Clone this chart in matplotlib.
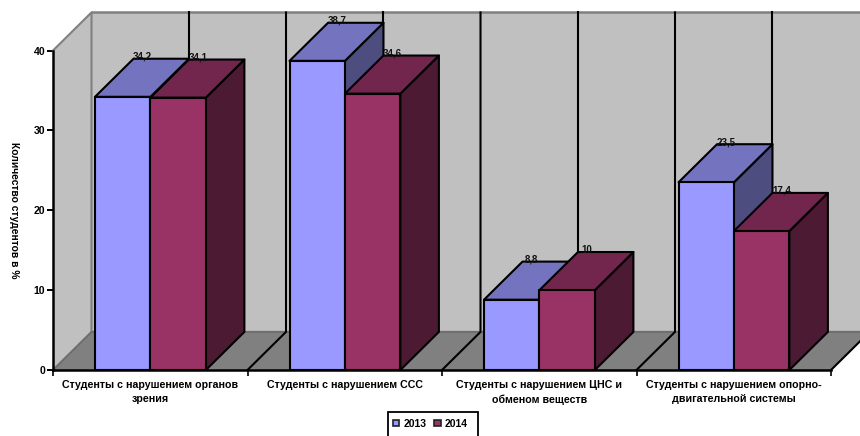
import matplotlib
matplotlib.use("Agg")
import matplotlib.pyplot as plt
from matplotlib.patches import Patch, Polygon, Rectangle

plt.rcParams["font.family"] = ["Liberation Sans", "DejaVu Sans"]
plt.rcParams["font.weight"] = "bold"

categories = [
    "Студенты с нарушением органов\nзрения",
    "Студенты с нарушением ССС",
    "Студенты с нарушением ЦНС и\nобменом веществ",
    "Студенты с нарушением опорно-\nдвигательной системы",
]
values_2013 = [34.2, 38.7, 8.8, 23.5]
values_2014 = [34.1, 34.6, 10, 17.4]
labels_2013 = ["34,2", "38,7", "8,8", "23,5"]
labels_2014 = ["34,1", "34,6", "10", "17,4"]
yticks = [0, 10, 20, 30, 40]

# depth of the fake 3d box, in data units
DX = 0.198
DY = 4.77
GAP = 0.216  # space left of the first bar in a category
BAR = 0.285
LW = 1.5

FRONT = ["#9999FF", "#993366"]
TOP = ["#7373BF", "#73264D"]
SIDE = ["#4D4D80", "#4D1A33"]


def poly(ax, pts, color, z, edge="none", lw=0.0):
    ax.add_patch(Polygon(pts, closed=True, facecolor=color, edgecolor=edge,
                         linewidth=lw, zorder=z, clip_on=False, joinstyle="round"))


def draw_bar(ax, x, val, s, z):
    x2 = x + BAR
    poly(ax, [(x2, 0), (x2 + DX, DY), (x2 + DX, val + DY), (x2, val)], SIDE[s], z, "black", LW)
    poly(ax, [(x, val), (x + DX, val + DY), (x2 + DX, val + DY), (x2, val)], TOP[s], z, "black", LW)
    poly(ax, [(x, 0), (x2, 0), (x2, val), (x, val)], FRONT[s], z, "black", LW)


fig = plt.figure(figsize=(8.6, 4.36), dpi=100)
ax = fig.add_axes([53 / 860, 66 / 436, 778 / 860, 319.5 / 436])
ax.set_xlim(0, 4)
ax.set_ylim(0, 40)
ax.patch.set_visible(False)

# walls and floor
n = len(categories)
poly(ax, [(DX, DY), (n + DX, DY), (n + DX, 40 + DY), (DX, 40 + DY)], "#C0C0C0", 1)
poly(ax, [(0, 0), (DX, DY), (DX, 40 + DY), (0, 40)], "#C0C0C0", 1)
poly(ax, [(0, 0), (n, 0), (n + DX, DY), (DX, DY)], "#808080", 1)

ax.plot([0, DX, DX], [40, 40 + DY, DY], color="#808080", lw=1.5, zorder=2, clip_on=False)
ax.plot([DX, n + DX], [40 + DY, 40 + DY], color="#808080", lw=1.8, zorder=2, clip_on=False)
ax.plot([0, DX, n + DX], [0, DY, DY], color="#6E6E6E", lw=1.5, zorder=2, clip_on=False)

# gridlines every half category on the back wall, running on over the floor
for i in range(1, 2 * n):
    gx = i / 2
    if i % 2 == 0:
        ax.plot([gx, gx + DX, gx + DX], [0, DY, 40 + DY], color="black", lw=LW, zorder=3, clip_on=False)
    else:
        ax.plot([gx + DX, gx + DX], [DY, 40 + DY], color="black", lw=LW, zorder=3, clip_on=False)

# right hand end of the floor
ax.plot([n, n + DX], [0, DY], color="black", lw=LW, zorder=3, clip_on=False)

for i in range(n):
    draw_bar(ax, i + GAP, values_2013[i], 0, 4 + 2 * i)
    draw_bar(ax, i + GAP + BAR, values_2014[i], 1, 5 + 2 * i)
    ax.text(i + GAP + DX + 0.047, values_2013[i] + DY + 0.25, labels_2013[i],
            fontsize=7, ha="center", va="center", color="#111111", zorder=20)
    ax.text(i + GAP + BAR + DX + 0.047, values_2014[i] + DY + 0.25, labels_2014[i],
            fontsize=7, ha="center", va="center", color="#111111", zorder=20)

for side in ["top", "right"]:
    ax.spines[side].set_visible(False)
for side in ["left", "bottom"]:
    ax.spines[side].set_linewidth(1.8)
    ax.spines[side].set_zorder(30)

ax.set_yticks(yticks)
ax.tick_params(axis="y", length=4, width=1.4, labelsize=7.6, pad=1.5)
ax.set_xticks(range(n + 1))
ax.set_xticklabels([])
ax.tick_params(axis="x", which="major", length=4, width=1.2)
ax.set_xticks([i + 0.5 for i in range(n)], minor=True)
ax.set_xticklabels(categories, minor=True, fontsize=7.7, linespacing=1.58)
ax.tick_params(axis="x", which="minor", length=0, pad=7)

fig.text(14 / 860, 1 - 210 / 436, "Количество студентов в %", rotation=-90,
         fontsize=7.4, ha="center", va="center")

# legend frame runs off the bottom of the picture
fig.add_artist(Rectangle((388 / 860, -0.05), 90 / 860, 1 - 412 / 436 + 0.05,
                         transform=fig.transFigure, facecolor="white",
                         edgecolor="black", linewidth=1.3))
handles = [Patch(facecolor=FRONT[0], edgecolor="#222222", linewidth=1.2),
           Patch(facecolor=FRONT[1], edgecolor="#222222", linewidth=1.2)]
fig.legend(handles, ["2013", "2014"], ncol=2, frameon=False, fontsize=7.5,
           loc="center", bbox_to_anchor=(430.5 / 860, 1 - 423.5 / 436),
           handlelength=0.6, handleheight=0.6, handletextpad=0.4, columnspacing=0.75,
           borderpad=0, borderaxespad=0)

fig.savefig("out.png", dpi=100)
